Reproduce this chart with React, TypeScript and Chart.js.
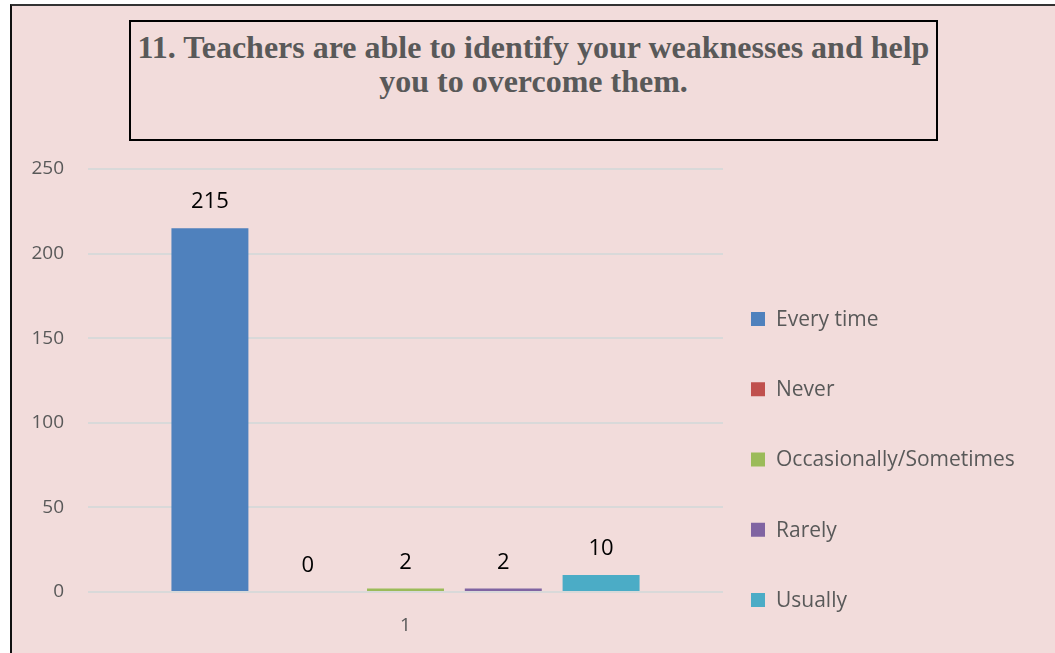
import React, { useEffect, useRef } from "react";
import { Chart, registerables } from "chart.js";

Chart.register(...registerables);

const categories = ["1"];
const seriesNames = ["Every time", "Never", "Occasionally/Sometimes", "Rarely", "Usually"];
const everyTime = [215];
const never = [0];
const occasionally = [2];
const rarely = [2];
const usually = [10];
const seriesColors = ["#4F81BD", "#C0504D", "#9BBB59", "#8064A2", "#4BACC6"];
const yTicks = [0, 50, 100, 150, 200, 250];

const W = 1055;
const H = 653;

const valueLabelPlugin = {
  id: "valueLabels",
  afterDatasetsDraw(chart: any) {
    const ctx = chart.ctx;
    ctx.save();
    ctx.font = "22px 'Open Sans'";
    ctx.fillStyle = "#000000";
    ctx.textAlign = "center";
    ctx.textBaseline = "middle";
    chart.data.datasets.forEach((ds: any, i: number) => {
      const meta = chart.getDatasetMeta(i);
      meta.data.forEach((bar: any, j: number) => {
        const v = ds.data[j];
        ctx.fillText(String(v), bar.x, bar.y - 26);
      });
    });
    ctx.restore();
  },
};

const customLegendPlugin = {
  id: "customLegend",
  afterDraw(chart: any) {
    const ctx = chart.ctx;
    const area = chart.chartArea;
    const boxX = area.right + 28;
    const firstY = 319;
    const step = 70.25;
    ctx.save();
    ctx.font = "21px 'Open Sans'";
    ctx.textAlign = "left";
    ctx.textBaseline = "middle";
    chart.data.datasets.forEach((ds: any, i: number) => {
      const cy = firstY + i * step;
      ctx.fillStyle = ds.backgroundColor;
      ctx.fillRect(boxX, cy - 7, 14, 14);
      ctx.fillStyle = "#595959";
      ctx.fillText(ds.label, boxX + 25, cy + 1);
    });
    ctx.restore();
  },
};

export default function App() {
  const ref = useRef<HTMLCanvasElement | null>(null);

  useEffect(() => {
    if (!ref.current) return;
    const seriesData = [everyTime, never, occasionally, rarely, usually];
    const chart = new Chart(ref.current, {
      type: "bar",
      data: {
        labels: categories,
        datasets: seriesNames.map((name, i) => ({
          label: name,
          data: seriesData[i],
          backgroundColor: seriesColors[i],
          borderWidth: 0,
          categoryPercentage: 0.77,
          barPercentage: 0.787,
        })),
      },
      options: {
        responsive: false,
        animation: false,
        events: [],
        layout: { padding: { left: 20, top: 169, right: W - 723, bottom: 0 } },
        plugins: {
          legend: { display: false },
          title: { display: false },
          tooltip: { enabled: false },
        },
        scales: {
          x: {
            grid: { display: false, drawTicks: false },
            border: { display: false },
            ticks: {
              color: "#595959",
              font: { family: "'Open Sans'", size: 19 },
              padding: 22,
            },
            afterFit(scale: any) {
              scale.height = H - 592;
            },
          },
          y: {
            min: 0,
            max: 250,
            afterBuildTicks(scale: any) {
              scale.ticks = yTicks.map((v) => ({ value: v }));
            },
            grid: { color: "#D9D9D9", lineWidth: 2, drawTicks: false },
            border: { display: false },
            ticks: {
              color: "#595959",
              font: { family: "'Open Sans'", size: 19 },
              padding: 24,
            },
            afterFit(scale: any) {
              scale.width = 68;
            },
          },
        },
      },
      plugins: [valueLabelPlugin, customLegendPlugin],
    });
    return () => chart.destroy();
  }, []);

  return (
    <div
      style={{
        position: "fixed",
        left: 0,
        top: 0,
        width: W,
        height: H,
        background: "#ffffff",
        overflow: "hidden",
      }}
    >
      <div
        style={{
          position: "absolute",
          left: 10,
          top: 4,
          right: 0,
          bottom: 0,
          background: "#F2DCDB",
          borderTop: "2px solid #333333",
          borderLeft: "2px solid #111111",
        }}
      />
      <div
        style={{
          position: "absolute",
          left: 129,
          top: 20,
          width: 809,
          height: 121,
          boxSizing: "border-box",
          border: "2px solid #000000",
          fontFamily: "'Liberation Serif', 'Times New Roman', serif",
          fontWeight: "bold",
          fontSize: 32,
          lineHeight: "34px",
          color: "#595959",
          textAlign: "center",
          paddingTop: 8,
          whiteSpace: "nowrap",
        }}
      >
        11. Teachers are able to identify your weaknesses and help
        <br />
        you to overcome them.
      </div>
      <canvas
        ref={ref}
        width={W}
        height={H}
        style={{ position: "absolute", left: 0, top: 0, width: W, height: H }}
      />
    </div>
  );
}
